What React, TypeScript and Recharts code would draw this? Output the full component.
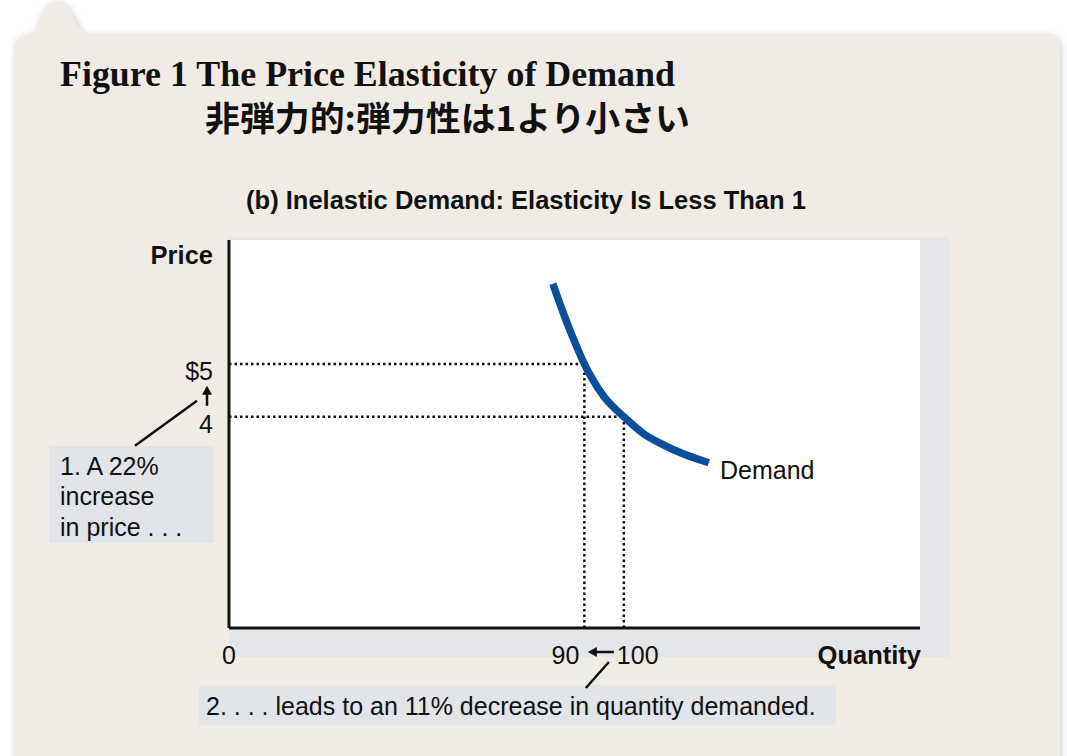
import { ComposedChart, Line, XAxis, YAxis, ReferenceLine } from "recharts";

// demand curve (quantity, price)
const demandQty = [82, 85, 88, 90, 92, 95, 100, 105, 110, 115, 121.5];
const demandPrice = [6.52, 5.9, 5.34, 5.0, 4.72, 4.38, 4.0, 3.68, 3.47, 3.3, 3.13];

// the two points of the price change
const pointQty = [90, 100];
const pointPrice = [5, 4];

const qtyTicks = [0, 90, 100];
const qtyTickLabels = ["0", "90", "100"];
const priceTicks = [4, 5];
const priceTickLabels = ["4", "$5"];

const W = 1067;
const H = 756;
const BEIGE = "#f0ece5";
const PANEL = "#e4e6ea";
const BLUE = "#0b4f9c";
const SANS = "'Liberation Sans', Arial, sans-serif";
const FS = 25;

const demandData = demandQty.map((q, i) => ({ q, p: demandPrice[i] }));

function XTick(props: any) {
  const { x, y, payload } = props;
  const i = qtyTicks.indexOf(payload.value);
  const label = qtyTickLabels[i] ?? String(payload.value);
  const ty = y + 36;
  if (payload.value === 90) {
    return (
      <text x={x - 5} y={ty} textAnchor="end" fontSize={FS} fontFamily={SANS} fill="#111">
        {label}
      </text>
    );
  }
  if (payload.value === 100) {
    return (
      <g>
        <text x={x - 7} y={ty} textAnchor="start" fontSize={FS} fontFamily={SANS} fill="#111">
          {label}
        </text>
        <line x1={x - 10} y1={y + 24} x2={x - 30} y2={y + 24} stroke="#111" strokeWidth={2.5} />
        <path d={`M${x - 36},${y + 24} L${x - 27},${y + 19} L${x - 27},${y + 29} Z`} fill="#111" />
        <line x1={x - 15} y1={y + 34} x2={x - 38} y2={y + 60} stroke="#111" strokeWidth={2.5} />
      </g>
    );
  }
  return (
    <text x={x} y={ty} textAnchor="middle" fontSize={FS} fontFamily={SANS} fill="#111">
      {label}
    </text>
  );
}

function YTick(props: any) {
  const { y, payload } = props;
  const i = priceTicks.indexOf(payload.value);
  const label = priceTickLabels[i] ?? String(payload.value);
  const ax = 229;
  return (
    <g>
      <text x={ax - 16} y={y + 16} textAnchor="end" fontSize={FS} fontFamily={SANS} fill="#111">
        {label}
      </text>
      {payload.value === 4 && (
        <g>
          <line x1={ax - 22} y1={y - 11} x2={ax - 22} y2={y - 24} stroke="#111" strokeWidth={2.5} />
          <path d={`M${ax - 22},${y - 31} L${ax - 27},${y - 22} L${ax - 17},${y - 22} Z`} fill="#111" />
          <line x1={ax - 32} y1={y - 16} x2={ax - 94} y2={y + 29} stroke="#111" strokeWidth={2.5} />
        </g>
      )}
    </g>
  );
}

export default function App() {
  return (
    <div style={{ position: "absolute", left: 0, top: 0, width: W, height: H, background: "#fff", overflow: "hidden" }}>
      <svg width={W} height={H} style={{ position: "absolute", left: 0, top: 0 }}>
        <defs>
          <filter id="sh" x="-5%" y="-5%" width="110%" height="110%">
            <feDropShadow dx="2" dy="0" stdDeviation="3" floodColor="#000" floodOpacity="0.18" />
          </filter>
        </defs>
        <path
          d="M13,52 Q13,35 30,35 C38,35 36,3 56,3 C76,3 74,35 88,35 L1045,35 Q1060,35 1060,50 L1060,780 L13,780 Z"
          fill={BEIGE}
          filter="url(#sh)"
        />
        <text
          x={60}
          y={86}
          fontFamily="'Liberation Serif', 'Times New Roman', serif"
          fontWeight="bold"
          fontSize={36}
          textLength={615}
          lengthAdjust="spacingAndGlyphs"
          fill="#111"
        >
          Figure 1 The Price Elasticity of Demand
        </text>
        <text
          x={205}
          y={131}
          fontFamily="'Noto Sans CJK JP', sans-serif"
          fontWeight="bold"
          fontSize={34}
          textLength={485}
          lengthAdjust="spacingAndGlyphs"
          fill="#111"
        >
          非弾力的:弾力性は1より小さい
        </text>
        <text x={526} y={209} textAnchor="middle" fontFamily={SANS} fontWeight="bold" fontSize={25.5} fill="#111">
          (b) Inelastic Demand: Elasticity Is Less Than 1
        </text>
        <rect x={229} y={237} width={721} height={420} fill={PANEL} />
        <rect x={229} y={240} width={691} height={388} fill="#fff" />
        <text x={213} y={264} textAnchor="end" fontFamily={SANS} fontWeight="bold" fontSize={25.5} fill="#111">
          Price
        </text>
        <text x={921} y={664} textAnchor="end" fontFamily={SANS} fontWeight="bold" fontSize={25.5} fill="#111">
          Quantity
        </text>
        <rect x={49} y={446} width={165} height={97} fill="#e1e4e8" />
        <text fontFamily={SANS} fontSize={FS} fill="#111">
          <tspan x={60} y={475}>1. A 22%</tspan>
          <tspan x={60} y={505}>increase</tspan>
          <tspan x={60} y={536}>in price . . .</tspan>
        </text>
        <rect x={199} y={685} width={637} height={40} fill="#e1e4e8" />
        <text x={206} y={715} fontFamily={SANS} fontSize={FS} fill="#111">
          2. . . . leads to an 11% decrease in quantity demanded.
        </text>
        <text x={720} y={479} fontFamily={SANS} fontSize={FS} fill="#111">
          Demand
        </text>
      </svg>
      <div style={{ position: "absolute", left: 0, top: 0 }}>
        <ComposedChart width={W} height={H} margin={{ top: 240, right: 147, bottom: 127, left: 228 }}>
          <XAxis
            type="number"
            dataKey="q"
            domain={[0, 175]}
            ticks={qtyTicks}
            height={1}
            tickLine={false}
            tickSize={0}
            tickMargin={0}
            axisLine={{ stroke: "#111", strokeWidth: 3 }}
            tick={(p: any) => <XTick {...p} />}
            interval={0}
            allowDataOverflow
          />
          <YAxis
            type="number"
            dataKey="p"
            domain={[0, 7.35]}
            ticks={priceTicks}
            width={1}
            tickLine={false}
            tickSize={0}
            tickMargin={0}
            axisLine={{ stroke: "#111", strokeWidth: 3 }}
            tick={(p: any) => <YTick {...p} />}
            interval={0}
            allowDataOverflow
          />
          {pointQty.map((q, i) => (
            <ReferenceLine
              key={`h${q}`}
              segment={[{ x: 0, y: pointPrice[i] }, { x: q, y: pointPrice[i] }]}
              stroke="#111"
              strokeWidth={2.5}
              strokeDasharray="2.5 3"
            />
          ))}
          {pointQty.map((q, i) => (
            <ReferenceLine
              key={`v${q}`}
              segment={[{ x: q, y: 0 }, { x: q, y: pointPrice[i] }]}
              stroke="#111"
              strokeWidth={2.5}
              strokeDasharray="2.5 3"
            />
          ))}
          <Line
            data={demandData}
            dataKey="p"
            type="monotoneX"
            stroke={BLUE}
            strokeWidth={7.5}
            dot={false}
            activeDot={false}
            isAnimationActive={false}
          />
        </ComposedChart>
      </div>
    </div>
  );
}
